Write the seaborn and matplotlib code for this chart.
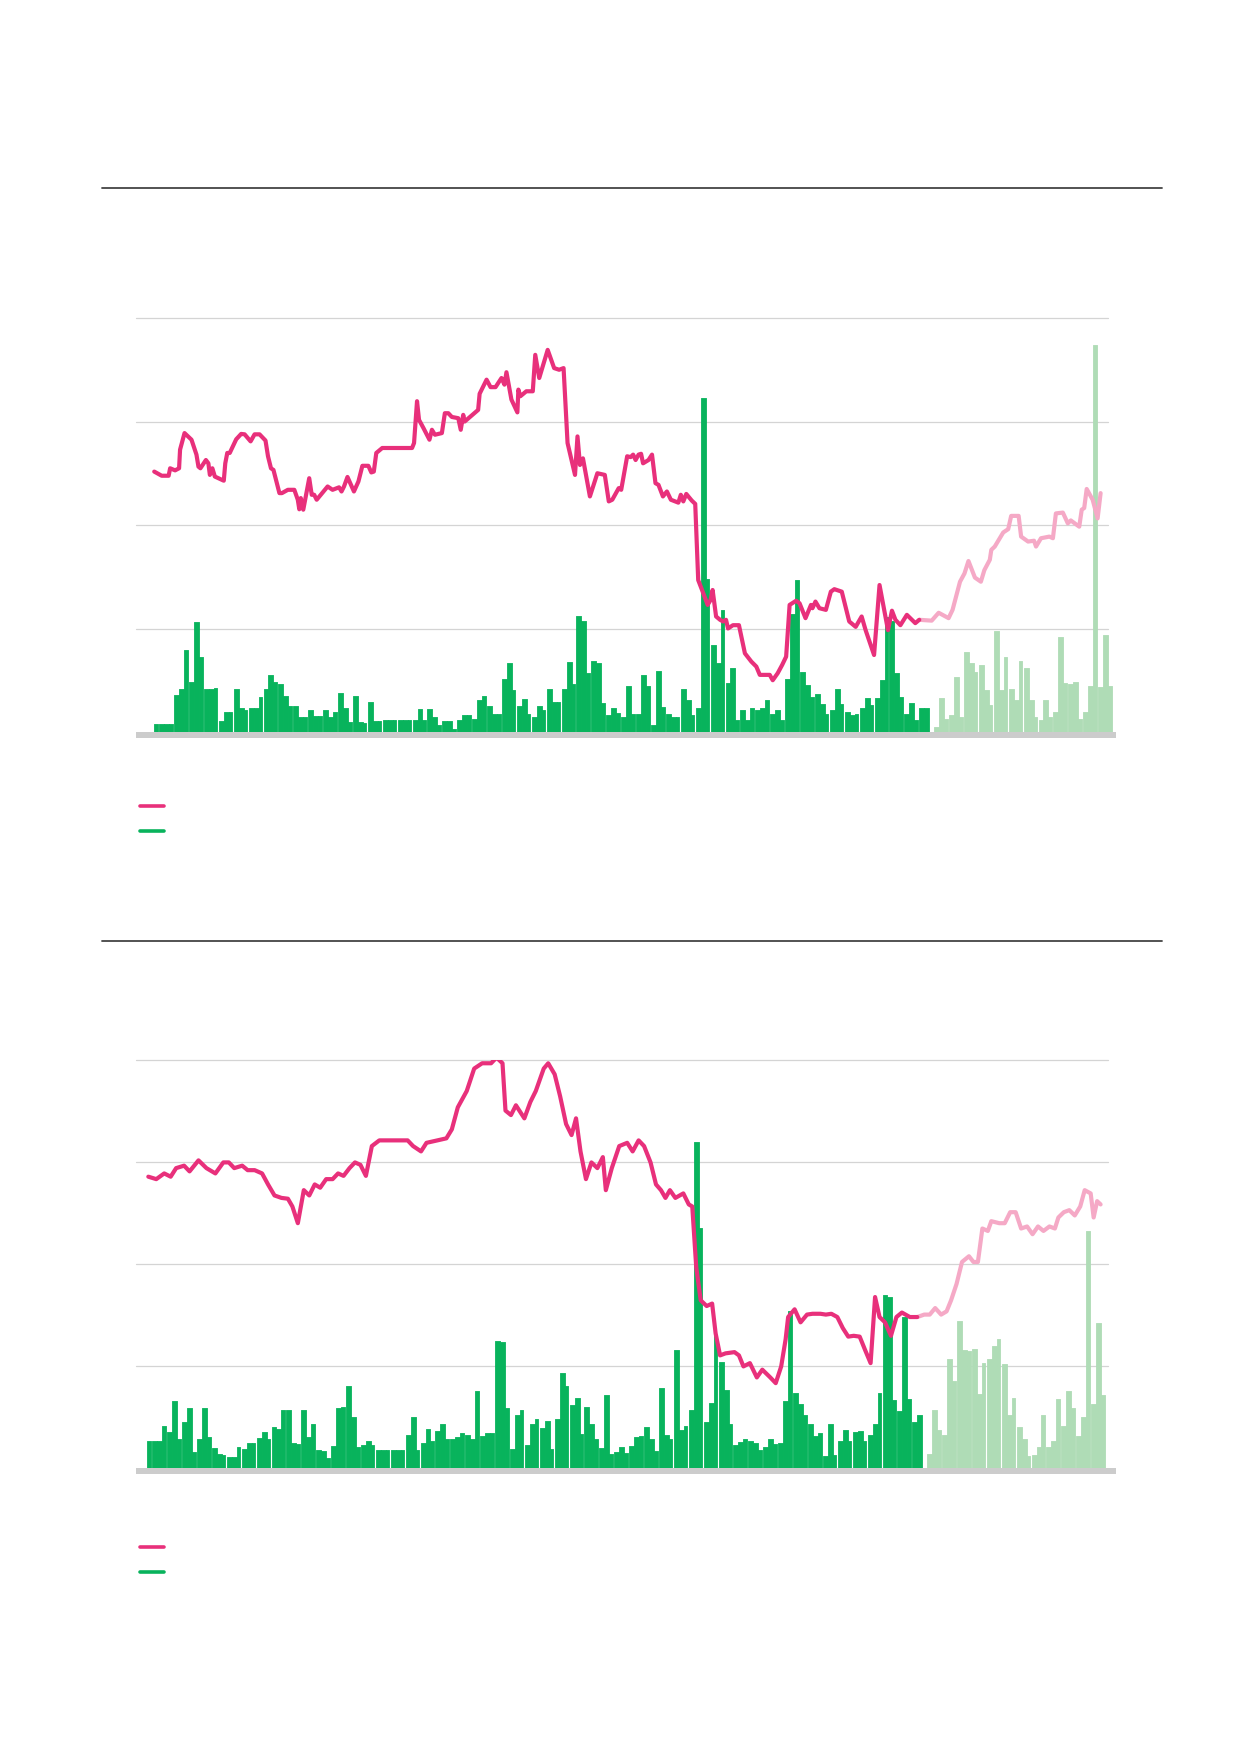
import numpy as np
import seaborn as sns
import matplotlib
matplotlib.use('Agg')
import matplotlib.pyplot as plt
from matplotlib.lines import Line2D

# colours
PINK = '#E8307B'
PINK_LIGHT = '#F5A9C6'
GREEN = '#08B35C'
GREEN_LIGHT = '#AFDCB6'
GRID = '#D4D4D4'
BASE = '#CCCCCC'
RULE = '#444444'

# ---- top chart data ----
# daily volume, 3 values per week block (values on 0-100 scale of the gridlines)
top_vol = [
    0, 0, 1.9,  2.0, 2.0, 2.0,  9.0, 10.3, 19.8,  12.1, 26.5, 18.0,  10.3, 10.3, 10.7,
    2.7, 4.9, 4.9,  10.4, 5.9, 5.4,  5.7, 5.7, 8.5,  10.5, 13.8, 12.0,  11.6, 8.8, 6.4,
    6.4, 3.6, 3.6,  5.3, 3.8, 3.8,  5.3, 3.6, 4.8,  9.3, 5.7, 2.4,  8.7, 2.4, 2.2,
    7.3, 2.7, 2.7,  3.0, 3.0, 3.0,  3.0, 3.0, 3.0,  3.0, 5.6, 3.0,  5.6, 3.6, 1.6,
    2.7, 2.7, 0.8,  3.0, 4.0, 4.0,  3.2, 7.7, 8.7,  6.2, 4.4, 4.3,  12.8, 16.7, 10.1,
    6.2, 8.0, 4.4,  3.6, 6.4, 5.3,  10.5, 7.3, 7.2,  10.3, 17.0, 11.7,  27.9, 26.7, 14.2,
    17.2, 16.6, 7.0,  4.0, 5.9, 4.5,  3.6, 11.1, 4.4,  4.4, 13.8, 11.1,  1.6, 14.7, 6.0,
    4.4, 3.6, 3.6,  10.3, 7.7, 4.0,  5.7, 80.6, 37.0,  21.0, 16.6, 29.5,  11.9, 15.4, 2.8,
    5.4, 2.8, 5.7,  5.4, 5.9, 7.7,  4.4, 5.4, 2.8,  12.7, 28.4, 36.6,  14.6, 11.3, 8.5,
    9.1, 6.7, 4.4,  5.3, 10.3, 6.7,  4.9, 4.0, 4.3,  5.7, 8.3, 6.5,  8.3, 12.5, 27.7,
    26.7, 14.2, 8.5,  4.3, 6.9, 2.8,  5.7, 5.7, 0,
]
top_vol_light = [
    1.2, 8.3, 3.2,  4.2, 13.2, 3.6,  19.4, 16.7, 14.6,  16.2, 10.1, 6.5,  24.3, 10.1, 18.0,
    10.3, 7.7, 17.2,  15.4, 7.7, 3.6,  2.8, 7.7, 3.6,  4.9, 22.9, 11.9,  11.7, 12.1, 3.2,
    4.9, 11.1, 93.4,  10.8, 23.5, 11.1,
]
# price line (day index, value)
top_line_x = [
    1.5, 3.0, 4.4, 4.7, 5.7, 6.5, 6.7, 7.6, 9.0, 10.0, 10.4, 10.8, 11.9, 12.4, 12.7, 13.2,
    13.7, 15.5, 15.8, 16.2, 16.7, 18.0, 19.0, 19.7, 20.9, 21.7, 22.7, 23.9, 24.4, 25.0, 25.5,
    26.7, 27.2, 28.4, 29.7, 30.4, 30.7, 31.0, 31.5, 32.7, 33.2, 33.7, 34.2, 36.4, 37.4, 38.7,
    39.2, 39.7, 40.4, 41.7, 42.6, 43.4, 44.6, 45.2, 45.7, 46.2, 47.4, 53.4, 53.8, 54.4, 54.8,
    55.7, 56.9, 57.4, 58.0, 59.4, 60.0, 60.7, 61.4, 62.7, 63.2, 63.7, 64.0, 66.7, 67.0, 68.4,
    69.2, 70.2, 71.4, 72.0, 72.4, 73.4, 74.6, 74.8, 75.2, 76.4, 77.7, 78.2, 79.0, 80.7, 82.0,
    83.0, 83.9, 84.7, 86.2, 86.7, 87.2, 87.8, 89.2, 90.7, 92.2, 93.0, 93.7, 95.0, 95.5, 96.7,
    97.4, 97.9, 98.4, 99.0, 99.5, 99.9, 101.0, 101.7, 102.4, 103.0, 103.9, 104.7, 105.5,
    107.0, 107.5, 108.0, 108.6, 109.7, 110.4, 111.0, 111.9, 112.9, 113.5, 113.9, 114.6,
    115.4, 116.0, 116.6, 117.0, 118.0, 119.2, 120.4, 121.7, 122.7, 123.4, 125.4, 126.0,
    127.0, 127.9, 128.7, 129.4, 130.7, 131.4, 132.6, 133.7, 134.0, 134.6, 135.4, 136.7,
    137.7, 138.4, 139.9, 141.4, 142.7, 143.9, 144.7, 146.4, 147.5, 149.2, 150.0, 150.7,
    151.7, 153.0, 154.7, 155.5,
]
top_line_v = [
    62.9, 61.9, 61.9, 63.7, 63.2, 63.7, 68.2, 72.2, 70.6, 67.0, 64.1, 63.7, 65.7, 64.9, 62.1,
    63.7, 61.7, 60.7, 64.9, 67.4, 67.4, 70.7, 72.0, 71.9, 70.2, 71.9, 71.9, 70.4, 66.6, 63.7,
    63.3, 57.7, 57.7, 58.5, 58.5, 56.1, 53.8, 56.5, 53.7, 61.3, 57.3, 57.3, 56.1, 59.3, 58.5,
    59.1, 58.1, 59.3, 61.6, 58.1, 60.5, 64.3, 64.3, 62.7, 62.9, 67.4, 68.6, 68.6, 69.8, 79.9,
    75.4, 73.4, 70.6, 73.0, 71.8, 72.2, 77.0, 77.0, 76.1, 75.8, 73.0, 76.6, 75.0, 77.8, 81.7,
    85.1, 83.3, 83.3, 85.5, 83.9, 86.9, 80.3, 77.2, 82.7, 81.1, 82.3, 82.3, 91.1, 85.5, 92.3,
    87.9, 87.5, 87.9, 69.8, 62.1, 71.4, 64.5, 66.1, 56.9, 62.5, 62.1, 55.7, 56.1, 58.9, 58.5,
    66.6, 66.4, 67.0, 65.7, 67.0, 67.2, 64.9, 65.7, 67.0, 60.1, 59.7, 56.9, 58.1, 56.1, 55.4,
    57.3, 55.7, 57.5, 55.9, 55.1, 36.7, 33.9, 30.7, 31.9, 34.3, 27.9, 27.1, 26.7, 27.1, 25.0,
    25.8, 25.8, 19.0, 17.0, 15.8, 13.8, 13.8, 12.5, 14.2, 16.2, 18.2, 30.7, 31.7, 31.1, 27.5,
    30.7, 29.9, 31.5, 29.9, 29.5, 33.9, 34.5, 33.9, 26.7, 25.4, 27.9, 24.6, 18.6, 35.5, 24.6,
    29.3, 27.1, 25.8, 28.3, 26.3, 27.1,
]
top_fc_x = [
    155.5, 158.0, 159.4, 161.4, 162.2, 163.7, 164.6, 165.4, 166.7, 167.9, 168.6, 169.7, 170.0,
    170.7, 172.4, 173.4, 174.0, 175.5, 176.0, 177.4, 178.6, 179.0, 180.0, 181.7, 182.4, 183.0,
    184.4, 185.4, 186.0, 187.7, 188.2, 188.7, 189.2, 190.4, 191.4, 192.0,
]
top_fc_v = [
    27.1, 26.9, 28.8, 27.5, 29.5, 36.3, 38.3, 41.3, 37.3, 36.3, 39.1, 41.6, 44.0, 44.8, 48.2,
    49.0, 52.2, 52.2, 47.2, 46.0, 46.2, 44.8, 46.8, 47.2, 46.8, 52.8, 53.0, 50.4, 51.1, 49.6,
    53.7, 54.1, 58.7, 56.1, 51.6, 57.7,
]

# ---- bottom chart data ----
bot_vol = [
    0, 0, 6.6,  6.5, 6.5, 10.4,  8.8, 16.3, 7.2,  11.2, 14.7, 3.8,  7.2, 14.7, 7.6,
    4.8, 3.4, 3.1,  2.8, 2.8, 5.1,  4.6, 6.1, 6.1,  7.3, 8.8, 7.2,  10.1, 9.5, 14.1,
    14.1, 6.1, 5.9,  14.3, 7.6, 10.9,  4.5, 4.2, 2.5,  5.5, 14.6, 14.9,  20.2, 12.4, 5.1,
    5.6, 6.7, 5.6,  4.5, 4.5, 4.5,  4.5, 4.5, 4.5,  8.0, 12.6, 4.5,  6.1, 9.5, 6.7,
    9.0, 10.7, 7.0,  7.2, 7.6, 8.7,  8.0, 7.2, 18.9,  7.8, 8.7, 8.7,  31.2, 30.9, 14.7,
    4.6, 12.9, 14.1,  5.6, 10.7, 12.0,  9.7, 11.4, 4.6,  12.0, 23.3, 20.0,  15.4, 17.1, 8.4,
    14.9, 10.7, 7.0,  4.8, 17.9, 3.4,  3.8, 5.1, 3.6,  5.3, 7.6, 7.8,  10.1, 7.2, 4.2,
    19.6, 8.2, 7.0,  28.9, 9.3, 10.4,  14.3, 79.9, 58.8,  11.2, 16.0, 32.4,  26.1, 19.1, 10.7,
    5.6, 6.3, 7.0,  6.5, 6.1, 4.5,  5.1, 7.2, 5.9,  6.1, 16.3, 38.4,  18.5, 15.7, 13.1,
    10.7, 7.8, 8.7,  2.9, 10.9, 3.1,  6.5, 9.3, 6.7,  8.8, 9.0, 6.7,  8.0, 10.7, 18.3,
    42.5, 41.8, 16.6,  13.9, 37.1, 16.8,  11.2, 13.1, 0,
]
bot_vol_light = [
    3.4, 14.1, 9.3,  8.2, 26.7, 21.3,  36.0, 29.0, 28.6,  29.2, 18.1, 25.7,  26.7, 29.9, 31.7,
    25.5, 13.1, 17.1,  10.1, 7.2, 2.9,  3.1, 5.1, 12.9,  5.1, 6.5, 16.8,  10.4, 18.8, 14.7,
    7.8, 12.4, 58.0,  15.7, 35.5, 17.9,
]
bot_line_x = [
    1.7, 3.3, 4.9, 6.2, 7.3, 8.9, 10.0, 11.8, 13.4, 15.2, 16.8, 17.9, 19.0, 20.6, 21.7, 23.1,
    24.6, 25.8, 27.1, 28.5, 29.8, 30.7, 31.8, 33.0, 34.1, 35.2, 36.3, 37.5, 38.8, 39.9, 41.0,
    42.2, 43.3, 44.4, 45.5, 46.7, 48.2, 50.5, 53.9, 55.0, 56.6, 57.7, 59.9, 61.7, 62.8, 64.0,
    65.8, 67.3, 68.9, 70.7, 71.8, 73.0, 73.6, 74.7, 75.7, 77.4, 78.6, 79.7, 81.3, 82.2, 83.5,
    84.6, 85.8, 86.9, 87.8, 88.7, 89.8, 90.9, 92.1, 93.2, 93.8, 95.0, 96.5, 98.1, 99.2, 100.4,
    101.5, 102.8, 103.9, 104.9, 105.8, 106.7, 107.8, 109.4, 110.5, 111.2, 112.0, 112.9, 114.1,
    115.2, 115.9, 116.8, 117.9, 119.7, 120.6, 121.5, 122.8, 124.2, 125.3, 126.9, 128.0, 129.1,
    130.0, 130.5, 131.8, 133.0, 134.3, 135.4, 137.0, 138.1, 139.2, 140.4, 141.5, 142.6, 143.7,
    144.9, 146.0, 147.1, 148.0, 148.9, 150.0, 151.2, 152.3, 153.4, 155.0, 156.5,
]
bot_line_v = [
    71.4, 70.8, 72.2, 71.4, 73.5, 74.1, 72.7, 75.4, 73.5, 72.2, 74.9, 74.9, 73.5, 74.1, 73.0,
    73.0, 72.2, 69.5, 66.8, 66.2, 66.0, 64.1, 60.0, 68.1, 66.8, 69.5, 68.7, 70.8, 70.8, 72.2,
    71.6, 73.5, 74.9, 74.3, 71.6, 78.9, 80.3, 80.3, 80.3, 78.9, 77.6, 79.7, 80.3, 80.8, 83.0,
    88.4, 92.4, 97.9, 99.2, 99.2, 100.6, 99.2, 87.6, 86.5, 88.9, 85.7, 89.7, 92.4, 97.9, 99.2,
    96.5, 91.1, 84.3, 81.6, 85.7, 77.6, 70.8, 74.9, 73.5, 76.2, 68.1, 73.5, 78.9, 79.7, 77.6,
    80.3, 78.9, 74.9, 69.5, 68.1, 66.2, 68.1, 66.2, 67.3, 64.6, 64.1, 49.2, 41.1, 39.7, 40.3,
    33.0, 27.6, 28.1, 28.4, 27.6, 24.9, 25.7, 22.2, 24.1, 22.2, 20.8, 24.9, 31.6, 37.0, 38.9,
    35.7, 37.6, 37.8, 37.8, 37.6, 37.8, 37.0, 34.3, 32.2, 32.4, 32.2, 28.9, 25.7, 41.9, 37.0,
    35.7, 32.4, 37.0, 38.1, 37.0, 37.0,
]
bot_fc_x = [
    156.5, 157.9, 159.0, 160.1, 161.3, 162.4, 163.3, 164.4, 165.5, 166.9, 167.8, 168.7, 169.6,
    170.7, 171.4, 173.0, 174.1, 175.2, 176.3, 177.4, 178.6, 179.7, 180.8, 181.9, 183.1, 184.2,
    184.9, 186.0, 187.1, 188.2, 189.3, 190.2, 191.4, 192.0, 192.7, 193.4,
]
bot_fc_v = [
    37.0, 37.6, 37.6, 39.2, 37.6, 38.4, 41.1, 45.1, 50.5, 51.9, 50.5, 50.5, 58.7, 58.1, 60.5,
    60.0, 60.0, 62.7, 62.7, 58.7, 59.2, 57.3, 59.2, 58.1, 59.2, 58.7, 61.4, 62.7, 63.2, 61.9,
    64.1, 68.1, 67.3, 61.4, 65.4, 64.6,
]

sns.set_style('white')
plt.rcParams['font.family'] = ['DejaVu Sans']

W, H = 1239, 1752
fig = plt.figure(figsize=(W / 100, H / 100), dpi=100)


def fy(px):
    return 1 - px / H


def draw_panel(ax, vol, vol_light, lx, lv, fx, fv, xlim):
    n_dark = len(vol)
    n_all = n_dark + len(vol_light)
    widths = np.tile([1.0, 1.0, 0.72], n_all // 3)
    idx = np.arange(n_all)
    ax.bar(idx[:n_dark] - 0.5, vol, width=widths[:n_dark], align='edge',
           color=GREEN, edgecolor=GREEN, linewidth=0.6, joinstyle='round', zorder=2)
    ax.bar(idx[n_dark:] - 0.5, vol_light, width=widths[n_dark:], align='edge',
           color=GREEN_LIGHT, edgecolor=GREEN_LIGHT, linewidth=0.6, joinstyle='round', zorder=2)
    sns.lineplot(x=lx, y=lv, ax=ax, color=PINK, linewidth=3.0, estimator=None,
                 sort=False, solid_joinstyle='round', solid_capstyle='round', zorder=4)
    sns.lineplot(x=fx, y=fv, ax=ax, color=PINK_LIGHT, linewidth=3.0, estimator=None,
                 sort=False, solid_joinstyle='round', solid_capstyle='round', zorder=3)
    for g in [25, 50, 75, 100]:
        ax.axhline(g, xmin=0, xmax=0.992, color=GRID, linewidth=0.9, zorder=1, clip_on=False)
    ax.axhline(-0.8, color=BASE, linewidth=4.3, solid_capstyle='butt', zorder=1, clip_on=False)
    ax.set_xlim(*xlim)
    ax.set_ylim(0, 100)
    ax.set_xticks([])
    ax.set_yticks([])
    ax.set_xlabel('')
    ax.set_ylabel('')
    for s in ax.spines.values():
        s.set_visible(False)
    ax.patch.set_alpha(0)


left = 136 / W
width = (1116 - 136) / W

ax1 = fig.add_axes([left, fy(732), width, (732 - 318) / H])
draw_panel(ax1, top_vol, top_vol_light, top_line_x, top_line_v, top_fc_x, top_fc_v,
           (-2.17, 195.1))

ax2 = fig.add_axes([left, fy(1468), width, (1468 - 1060) / H])
draw_panel(ax2, bot_vol, bot_vol_light, bot_line_x, bot_line_v, bot_fc_x, bot_fc_v,
           (-0.78, 196.5))

# horizontal rules above each panel
for y in [187.5, 941]:
    fig.add_artist(Line2D([102 / W, 1162 / W], [fy(y), fy(y)], color=RULE, linewidth=1.3))

# legend keys (no text)
for y0 in [806, 1547]:
    fig.add_artist(Line2D([140 / W, 164 / W], [fy(y0), fy(y0)], color=PINK, linewidth=2.6))
    fig.add_artist(Line2D([140 / W, 164 / W], [fy(y0 + 25), fy(y0 + 25)], color=GREEN, linewidth=2.6))

fig.savefig('out.png', dpi=100)
